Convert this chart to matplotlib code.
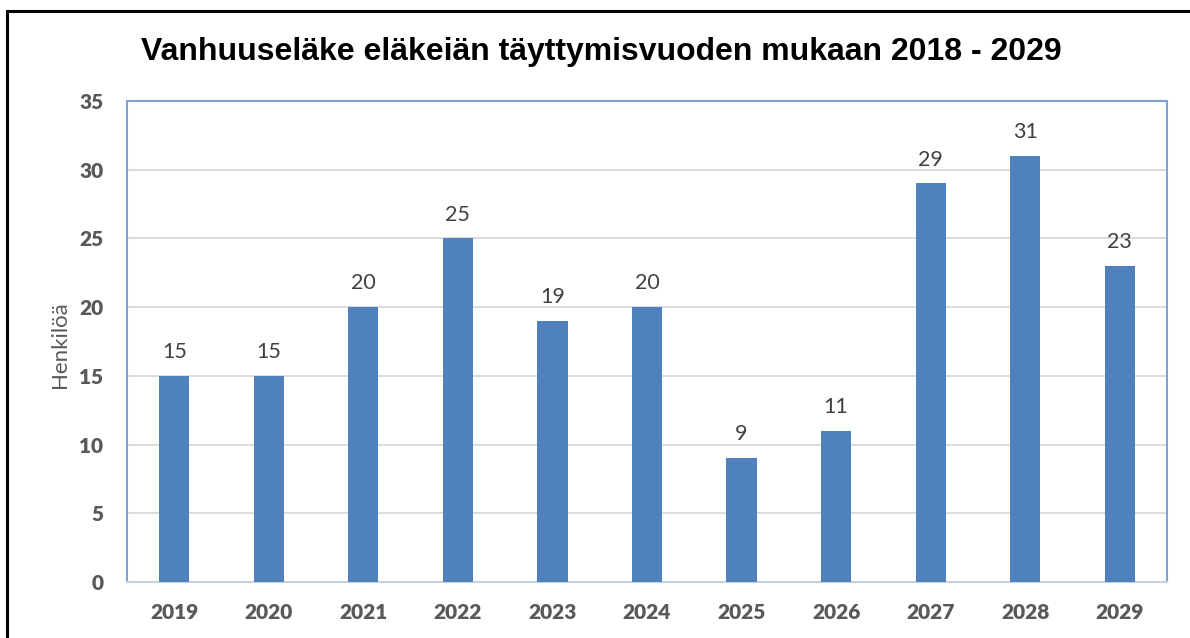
import matplotlib
matplotlib.use("Agg")
import matplotlib.pyplot as plt
from matplotlib.patches import Rectangle

years = ["2019", "2020", "2021", "2022", "2023", "2024", "2025", "2026", "2027", "2028", "2029"]
values = [15, 15, 20, 25, 19, 20, 9, 11, 29, 31, 23]
yticks = [0, 5, 10, 15, 20, 25, 30, 35]
title = "Vanhuuseläke eläkeiän täyttymisvuoden mukaan 2018 - 2029"
ylabel = "Henkilöä"

W, H = 1190, 638
fig = plt.figure(figsize=(W / 100, H / 100), dpi=100)
fig.patch.set_facecolor("white")

# outer black frame (extends beyond right/bottom edges)
fig.add_artist(Rectangle((7 / W, -0.1), 1.2, 1 - 11 / H + 0.1, transform=fig.transFigure,
                         fill=False, edgecolor="black", linewidth=2.2))

left, right, top, bottom = 127, 1167, 101, 582
ax = fig.add_axes([left / W, 1 - bottom / H, (right - left) / W, (bottom - top) / H])

x = range(len(years))
ax.bar(x, values, width=0.32, color="#4F81BD", zorder=3)
ax.set_xlim(-0.5, len(years) - 0.5)
ax.set_ylim(0, 35)
ax.set_yticks(yticks)
ax.set_xticks(list(x))
ax.set_xticklabels(years)
ax.grid(axis="y", color="#D9D9D9", linewidth=1.3, zorder=0)
ax.tick_params(length=0)
for lbl in ax.get_xticklabels() + ax.get_yticklabels():
    lbl.set_fontfamily("Lato")
    lbl.set_fontweight("heavy")
    lbl.set_color("#595959")
    lbl.set_fontsize(15)
ax.tick_params(axis="x", pad=15)
ax.tick_params(axis="y", pad=17)

for s in ["left", "right", "top"]:
    ax.spines[s].set_color("#7FA3D0")
    ax.spines[s].set_linewidth(1.5)
ax.spines["bottom"].set_color("#C8D2DE")
ax.spines["bottom"].set_linewidth(1.5)

for xi, v in zip(x, values):
    ax.annotate(str(v), (xi, v), xytext=(0, 10), textcoords="offset points",
                ha="center", va="bottom", fontsize=15.5, color="#404040", family="Lato")

fig.text(60 / W, 1 - 345 / H, ylabel, rotation=90, ha="center", va="center",
         fontsize=16, color="#595959", family="Lato")
fig.text(601 / W, 1 - 52 / H, title, ha="center", va="center",
         fontsize=23, fontweight="bold", family="Liberation Sans", color="black")

fig.savefig("out.png", dpi=100)
